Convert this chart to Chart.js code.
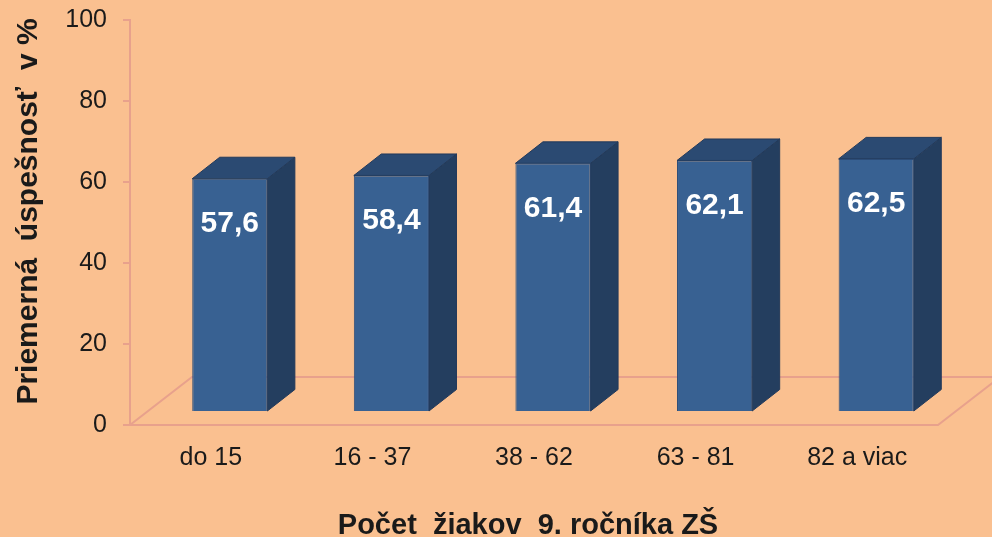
<!DOCTYPE html>
<html>
<head>
<meta charset="utf-8">
<title>Priemerná úspešnosť</title>
<script src="https://cdn.jsdelivr.net/npm/chart.js@4/dist/chart.umd.min.js"></script>
<style>
    html, body { margin: 0; padding: 0; background: #FAC090; }
    #chart { display: block; }
</style>
</head>
<body>
<canvas id="chart" width="992" height="537"></canvas>
<script>
var categories = ['do 15', '16 - 37', '38 - 62', '63 - 81', '82 a viac'];
var values = [57.6, 58.4, 61.4, 62.1, 62.5];
var yTicks = [0, 20, 40, 60, 80, 100];
var xTitle = 'Počet  žiakov  9. ročníka ZŠ';
var yTitle = 'Priemerná  úspešnosť  v %';

var FONT = '"Liberation Sans", Arial, sans-serif';
var AXIS_COLOR = '#E8A18C';
var BAR_SHIFT = { x: 19, y: -13 };
var BAR_DEPTH = { x: 27.5, y: -21.5 };
var FLOOR_DEPTH = { x: 62, y: -48 };

function fmt(v) {
    return v.toFixed(1).replace('.', ',');
}

// floor, bar sides/tops and value labels
var threeD = {
    id: 'threeD',
    beforeDatasetsDraw: function(chart) {
        var ctx = chart.ctx;
        var a = chart.chartArea;
        ctx.save();
        ctx.strokeStyle = AXIS_COLOR;
        ctx.lineWidth = 2;
        ctx.beginPath();
        ctx.moveTo(a.left, a.bottom);
        ctx.lineTo(a.right, a.bottom);
        ctx.lineTo(a.right + FLOOR_DEPTH.x, a.bottom + FLOOR_DEPTH.y);
        ctx.lineTo(a.left + FLOOR_DEPTH.x, a.bottom + FLOOR_DEPTH.y);
        ctx.closePath();
        ctx.stroke();
        ctx.restore();

        ctx.save();
        ctx.translate(BAR_SHIFT.x, BAR_SHIFT.y);
        chart.getDatasetMeta(0).data.forEach(function(bar) {
            var p = bar.getProps(['x', 'y', 'base', 'width'], true);
            var l = p.x - p.width / 2, r = p.x + p.width / 2;
            ctx.lineWidth = 1;
            ctx.strokeStyle = '#22395A';
            ctx.fillStyle = '#243E5F';
            ctx.beginPath();
            ctx.moveTo(r, p.y);
            ctx.lineTo(r + BAR_DEPTH.x, p.y + BAR_DEPTH.y);
            ctx.lineTo(r + BAR_DEPTH.x, p.base + BAR_DEPTH.y);
            ctx.lineTo(r, p.base);
            ctx.closePath();
            ctx.fill();
            ctx.stroke();
            ctx.fillStyle = '#2B4A72';
            ctx.beginPath();
            ctx.moveTo(l, p.y);
            ctx.lineTo(l + BAR_DEPTH.x, p.y + BAR_DEPTH.y);
            ctx.lineTo(r + BAR_DEPTH.x, p.y + BAR_DEPTH.y);
            ctx.lineTo(r, p.y);
            ctx.closePath();
            ctx.fill();
            ctx.stroke();
        });
    },
    afterDatasetsDraw: function(chart) {
        var ctx = chart.ctx;
        ctx.font = 'bold 30px ' + FONT;
        ctx.fillStyle = '#FFFFFF';
        ctx.textAlign = 'center';
        ctx.textBaseline = 'middle';
        chart.getDatasetMeta(0).data.forEach(function(bar, i) {
            ctx.fillText(fmt(values[i]), bar.x, bar.y + 45);
        });
        ctx.restore();
    },
    afterDraw: function(chart) {
        var ctx = chart.ctx;
        var a = chart.chartArea;
        ctx.save();
        ctx.font = 'bold 29px ' + FONT;
        ctx.fillStyle = '#1A1A1A';
        ctx.textAlign = 'center';
        ctx.textBaseline = 'alphabetic';
        ctx.fillText(xTitle, (a.left + a.right) / 2 - 6, 534);
        ctx.font = 'bold 30px ' + FONT;
        ctx.translate(37, 211.5);
        ctx.rotate(-Math.PI / 2);
        ctx.fillText(yTitle, 0, 0);
        ctx.restore();
    }
};

document.addEventListener('DOMContentLoaded', function() {
    Chart.defaults.font.family = FONT;
    Chart.defaults.color = '#1A1A1A';

    var ctx = document.getElementById('chart').getContext('2d');
    new Chart(ctx, {
        type: 'bar',
        data: {
            labels: categories,
            datasets: [{
                data: values,
                backgroundColor: '#386192',
                borderColor: '#2C4C77',
                borderWidth: 1,
                barPercentage: 0.465,
                categoryPercentage: 1
            }]
        },
        options: {
            responsive: false,
            devicePixelRatio: 1,
            animation: false,
            layout: { padding: { top: 20, right: 54, left: 0, bottom: 0 } },
            plugins: {
                legend: { display: false },
                tooltip: { enabled: false }
            },
            scales: {
                x: {
                    grid: { display: false, drawTicks: false },
                    border: { display: false },
                    ticks: { font: { size: 25 }, padding: 18, color: '#1A1A1A' },
                    afterFit: function(scale) { scale.height = 112; }
                },
                y: {
                    min: yTicks[0],
                    max: yTicks[yTicks.length - 1],
                    afterBuildTicks: function(scale) {
                        scale.ticks = yTicks.map(function(v) { return { value: v }; });
                    },
                    grid: {
                        drawOnChartArea: false,
                        drawTicks: true,
                        tickLength: 7,
                        color: AXIS_COLOR,
                        lineWidth: 2
                    },
                    border: { color: AXIS_COLOR, width: 2 },
                    ticks: { font: { size: 25 }, padding: 16, color: '#1A1A1A' },
                    afterFit: function(scale) {
                        scale.width = 130;
                        scale.paddingTop = 0;
                        scale.paddingBottom = 0;
                    }
                }
            }
        },
        plugins: [threeD]
    });
});
</script>
</body>
</html>
